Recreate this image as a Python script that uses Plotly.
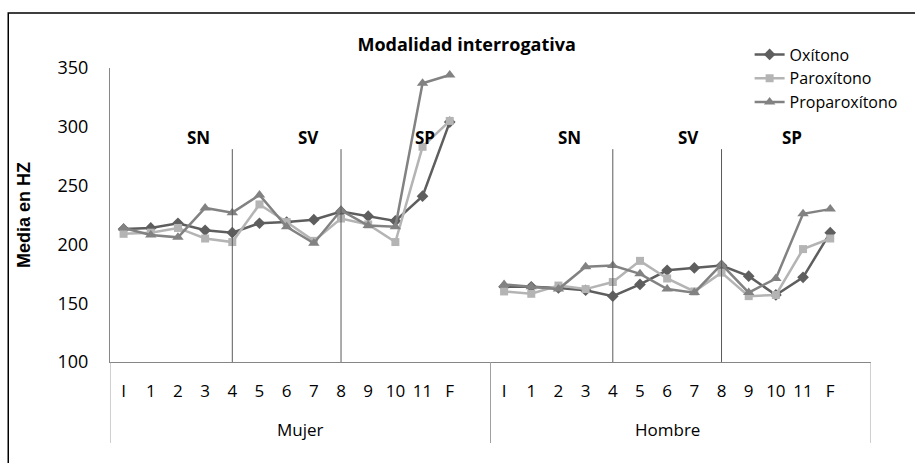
import plotly.graph_objects as go

positions = ["I", "1", "2", "3", "4", "5", "6", "7", "8", "9", "10", "11", "F"]
groups = ["Mujer", "Hombre"]

mujer_oxitono = [213, 214, 218, 212, 210, 218, 219, 221, 228, 224, 220, 241, 304]
mujer_paroxitono = [209, 210, 214, 205, 202, 234, 219, 203, 222, 217, 202, 283, 305]
mujer_proparoxitono = [214, 208, 206, 231, 227, 242, 215, 201, 229, 216, 215, 337, 344]

hombre_oxitono = [164, 164, 163, 161, 156, 166, 178, 180, 182, 173, 157, 172, 210]
hombre_paroxitono = [160, 158, 165, 162, 168, 186, 171, 160, 176, 156, 157, 196, 205]
hombre_proparoxitono = [166, 164, 162, 181, 182, 175, 162, 159, 183, 159, 171, 226, 230]

segments = ["SN", "SV", "SP"]
series_names = ["Oxítono", "Paroxítono", "Proparoxítono"]

n = len(positions)
# Mujer occupies slots 0..12, an empty slot 13, Hombre occupies 14..26
x_m = list(range(n))
x_h = list(range(n + 1, 2 * n + 1))
x_all = x_m + [n] + x_h

def join(a, b):
    return a + [None] + b

series = [
    (series_names[0], join(mujer_oxitono, hombre_oxitono), "#5e5e5e", "diamond", 9),
    (series_names[1], join(mujer_paroxitono, hombre_paroxitono), "#b4b4b4", "square", 8),
    (series_names[2], join(mujer_proparoxitono, hombre_proparoxitono), "#828282", "triangle-up", 10),
]

fig = go.Figure()
for name, ys, col, sym, sz in series:
    fig.add_trace(go.Scatter(
        x=x_all, y=ys, name=name, mode="lines+markers",
        connectgaps=False,
        line=dict(color=col, width=2.5),
        marker=dict(symbol=sym, size=sz, color=col),
    ))

font_main = "Open Sans"
axis_col = "#868686"

shapes = []
# segment divider lines (at positions 4 and 8 of each group)
for base in (0, n + 1):
    for idx in (4, 8):
        shapes.append(dict(type="line", xref="x", yref="y", x0=base + idx, x1=base + idx,
                           y0=281, y1=100, line=dict(color="#5a5a5a", width=1)))
# group separator lines in the category area
for xv in (-0.5, n + 0.5, 2 * n + 1.5):
    shapes.append(dict(type="line", xref="x", yref="paper", x0=xv, x1=xv,
                       y0=0, y1=-0.2755, line=dict(color="#a0a0a0", width=1)))
# outer border
shapes.append(dict(type="rect", xref="paper", yref="paper", x0=-0.1337, x1=1.07,
                   y0=-0.40, y1=1.187, line=dict(color="#000000", width=1.5)))

annotations = []
seg_x_m = [2.77, 6.79, 11.09]
seg_x_h = [16.41, 20.77, 24.59]
for xs in (seg_x_m, seg_x_h):
    for s, xv in zip(segments, xs):
        annotations.append(dict(x=xv, y=290.5, xref="x", yref="y", text="<b>%s</b>" % s,
                                showarrow=False, xanchor="center", yanchor="middle",
                                font=dict(family=font_main, size=17, color="#000000")))
for g, xv in zip(groups, [6.5, n + 1 + 6]):
    annotations.append(dict(x=xv, y=-0.231, xref="x", yref="paper", text=g, showarrow=False,
                            xanchor="center", yanchor="middle",
                            font=dict(family=font_main, size=17, color="#000000")))

fig.update_layout(
    width=915, height=463,
    margin=dict(l=110, r=42, t=68, b=101),
    paper_bgcolor="white", plot_bgcolor="white",
    title=dict(text="<b>Modalidad interrogativa</b>", x=0.51, xanchor="center",
               y=1 - 45 / 463, yanchor="middle", yref="container",
               font=dict(family=font_main, size=18, color="#000000")),
    xaxis=dict(range=[-0.5, 2 * n + 1.5], tickmode="array",
               tickvals=x_m + x_h, ticktext=positions + positions,
               showgrid=False, zeroline=False, showline=True, linecolor=axis_col, linewidth=1,
               ticks="", ticklabelstandoff=14,
               tickfont=dict(family=font_main, size=17, color="#000000")),
    yaxis=dict(range=[100, 350], tickvals=[100, 150, 200, 250, 300, 350],
               showgrid=False, zeroline=False, showline=True, linecolor=axis_col, linewidth=1,
               ticks="", ticklabelstandoff=17, automargin=False,
               tickfont=dict(family=font_main, size=18, color="#000000"),
               title=dict(text="<b>Media en HZ</b>", standoff=22,
                          font=dict(family="Liberation Sans", size=18, color="#000000"))),
    legend=dict(x=0.8405, y=1.1036, xanchor="left", yanchor="top", bgcolor="rgba(0,0,0,0)",
                font=dict(family=font_main, size=16, color="#000000"), tracegroupgap=0,
                itemwidth=30),
    shapes=shapes, annotations=annotations,
    showlegend=True,
)

fig.write_html("out.html", config={"displayModeBar": False},
               post_script="document.body.style.margin='0';")
